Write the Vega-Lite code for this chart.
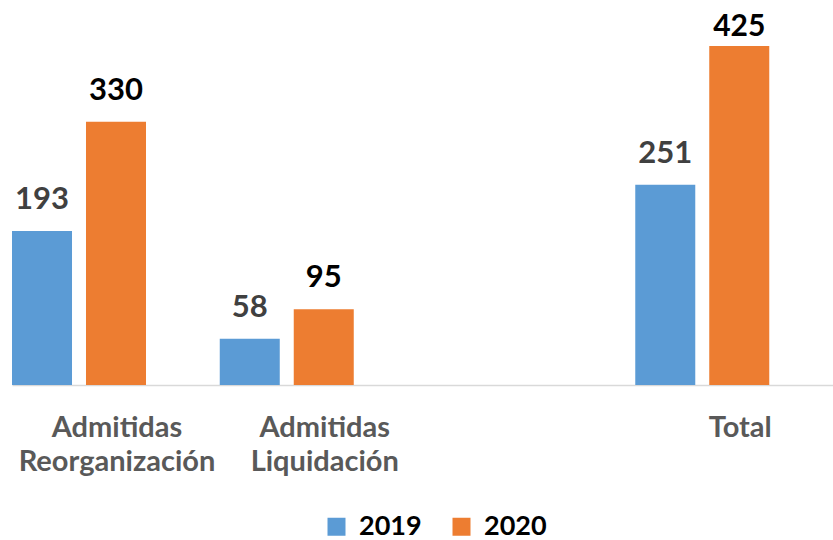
{
  "$schema": "https://vega.github.io/schema/vega-lite/v6.json",
  "width": 821,
  "height": 359,
  "autosize": {"type": "none"},
  "padding": {"left": 12, "top": 26, "right": 0, "bottom": 155},
  "background": "white",
  "config": {"view": {"stroke": null}, "font": "Lato"},
  "data": {"values": [
    {"cat": "Admitidas|Reorganización", "year": "2019", "value": 193},
    {"cat": "Admitidas|Reorganización", "year": "2020", "value": 330},
    {"cat": "Admitidas|Liquidación", "year": "2019", "value": 58},
    {"cat": "Admitidas|Liquidación", "year": "2020", "value": 95},
    {"cat": "Total", "year": "2019", "value": 251},
    {"cat": "Total", "year": "2020", "value": 425}
  ]},
  "encoding": {
    "x": {"field": "cat", "type": "nominal", "sort": null,
      "scale": {"domain": ["Admitidas|Reorganización", "Admitidas|Liquidación", " ", "Total"], "paddingInner": 0.355, "paddingOuter": 0.1534, "align": 0},
      "axis": {"title": null, "labelAngle": 0, "ticks": false, "domainColor": "#d9d9d9", "domainWidth": 1.5,
        "labelExpr": "split(datum.label, '|')", "labelFontSize": 29, "labelFontWeight": "bold", "labelColor": "#595959",
        "labelPadding": 28, "labelOffset": 38, "labelLineHeight": 34, "labelBaseline": "top", "labelLimit": 0}},
    "xOffset": {"field": "year", "type": "nominal", "scale": {"paddingInner": 0.189, "paddingOuter": 0}},
    "y": {"field": "value", "type": "quantitative", "scale": {"domain": [0, 450]}, "axis": null}
  },
  "layer": [
    {"mark": {"type": "bar"},
     "encoding": {"color": {"field": "year", "type": "nominal",
        "scale": {"domain": ["2019", "2020"], "range": ["#5B9BD5", "#ED7D31"]},
        "legend": {"title": null, "orient": "none", "direction": "horizontal", "legendX": 311, "legendY": 487,
          "symbolType": "square", "symbolSize": 324, "symbolStrokeWidth": 0, "symbolOpacity": 1,
          "labelFontSize": 27, "labelFontWeight": "bold", "labelColor": "#000000", "columnPadding": 26, "labelOffset": 9}}}},
    {"transform": [{"filter": "datum.value < 400"}],
     "mark": {"type": "text", "baseline": "alphabetic", "dy": -22, "fontSize": 31, "fontWeight": "bold"},
     "encoding": {"text": {"field": "value", "type": "quantitative"},
       "color": {"condition": {"test": "datum.year == '2019'", "value": "#404040"}, "value": "#000000"}}},
    {"transform": [{"filter": "datum.value >= 400"}],
     "mark": {"type": "text", "baseline": "alphabetic", "dy": -10, "fontSize": 30, "fontWeight": "bold"},
     "encoding": {"text": {"field": "value", "type": "quantitative"},
       "color": {"condition": {"test": "datum.year == '2019'", "value": "#404040"}, "value": "#000000"}}}
  ]
}
